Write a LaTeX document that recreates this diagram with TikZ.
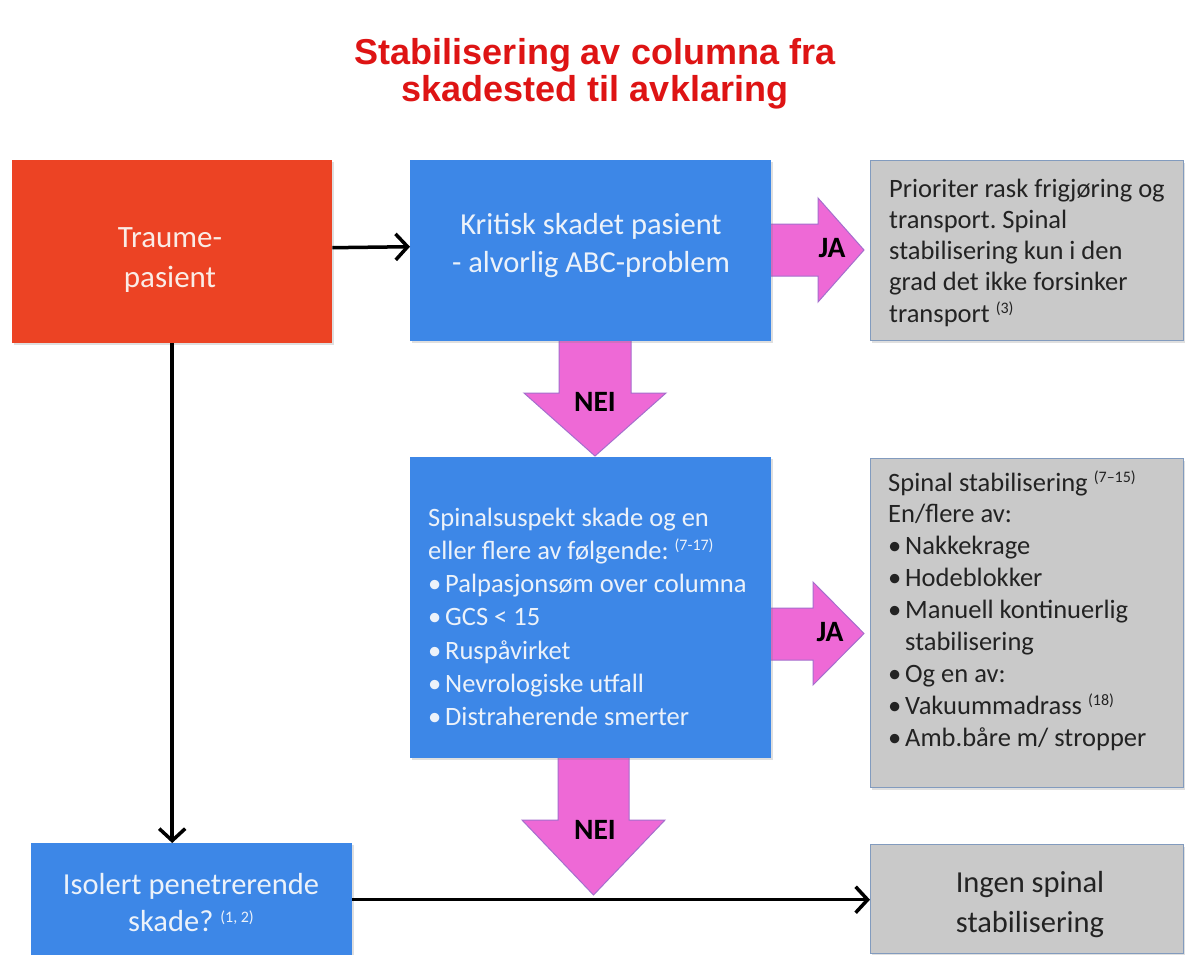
\documentclass[tikz,border=0pt]{standalone}
\usepackage{fontspec}
\setmainfont{Carlito}
\newfontfamily\titlefont{Liberation Sans}
\usetikzlibrary{arrows.meta,shadows}
\definecolor{boxred}{RGB}{236,67,36}
\definecolor{boxblue}{RGB}{61,135,231}
\definecolor{boxgrey}{RGB}{201,201,201}
\definecolor{greyedge}{RGB}{130,155,190}
\definecolor{pinkfill}{RGB}{238,105,214}
\definecolor{pinkedge}{RGB}{165,110,205}
\definecolor{titlered}{RGB}{222,20,20}
\definecolor{paletext}{RGB}{236,242,250}
\definecolor{redtext}{RGB}{250,236,230}
\definecolor{darktext}{RGB}{35,35,35}
\newcommand{\refsup}[1]{{\fontsize{16}{16}\selectfont\raisebox{9pt}{#1}}}
\newcommand{\listbullet}{\makebox[17pt][l]{•}}
\frenchspacing
\begin{document}
\begin{tikzpicture}[x=1pt,y=-1pt,
  basebox/.style={rectangle, inner sep=0pt, anchor=north west,
    drop shadow={opacity=0.25,shadow xshift=1.5pt,shadow yshift=-2pt}},
  redbox/.style={basebox, fill=boxred},
  bluebox/.style={basebox, fill=boxblue},
  greybox/.style={basebox, fill=boxgrey, draw=greyedge, line width=1.2pt},
  bigtext/.style={align=center, anchor=base, inner sep=0pt},
  listtext/.style={align=left, anchor=base west, inner sep=0pt},
  flow/.style={line width=3.5pt, -{Straight Barb[length=12pt,width=26pt]}},
  pinkarrow/.style={fill=pinkfill, draw=pinkedge, line width=1pt, line join=miter},
  yesno/.style={font=\bfseries\fontsize{29.5}{29.5}\selectfont, text=black, inner sep=0pt}]
\clip (0,0) rectangle (1189,954);
\fill[white] (0,0) rectangle (1189,954);

% title (anchor base = baseline of the last line)
\node[font=\titlefont\bfseries\fontsize{36}{37}\selectfont, text=titlered, align=center, anchor=base] (title) at (595,101) {Stabilisering av columna fra\\skadested til avklaring};

% pink yes/no arrows
\draw[pinkarrow] (768,224) -- (818,224) -- (818,198) -- (864,250) -- (818,302) -- (818,276) -- (768,276) -- cycle;
\draw[pinkarrow] (768,608) -- (813,608) -- (813,582) -- (864,633.5) -- (813,685) -- (813,660) -- (768,660) -- cycle;
\draw[pinkarrow] (559,338) -- (631,338) -- (631,393) -- (666,393) -- (595,456) -- (524,393) -- (559,393) -- cycle;
\draw[pinkarrow] (558,755) -- (629,755) -- (629,820) -- (665,820) -- (593.5,895) -- (522,820) -- (558,820) -- cycle;

% boxes
\node[redbox, minimum width=320, minimum height=183] (traume) at (12,160) {};
\node[bluebox, minimum width=361, minimum height=181] (kritisk) at (410,160) {};
\node[greybox, minimum width=313, minimum height=180] (prior) at (870,160) {};
\node[bluebox, minimum width=361, minimum height=301] (spinal) at (410,457) {};
\node[greybox, minimum width=313, minimum height=329] (stab) at (870,458) {};
\node[bluebox, minimum width=321, minimum height=113] (isolert) at (31,843) {};
\node[greybox, minimum width=313, minimum height=109] (ingen) at (870,844) {};

% labels on pink arrows
\node[yesno] (ja1) at (832,248) {JA};
\node[yesno] (ja2) at (830,632) {JA};
\node[yesno] (nei1) at (595,402) {NEI};
\node[yesno] (nei2) at (595,830) {NEI};

% texts (anchor base = baseline of the last line)
\node[bigtext, text=redtext, font=\fontsize{31}{40}\selectfont] (traumetxt) at (170,287) {Traume-\\pasient};
\node[bigtext, text=paletext, font=\fontsize{30.5}{38}\selectfont] (kritisktxt) at (591,272) {Kritisk skadet pasient\\- alvorlig ABC-problem};
\node[bigtext, text=paletext, font=\fontsize{30.5}{37}\selectfont] (isolerttxt) at (191,931) {Isolert penetrerende\\skade? \refsup{(1, 2)}};
\node[bigtext, text=darktext, font=\fontsize{30.5}{40}\selectfont] (ingentxt) at (1030,932) {Ingen spinal\\stabilisering};
\node[listtext, text=darktext, font=\fontsize{26.5}{31.3}\selectfont] (priortxt) at (889,322.2) {Prioriter rask frigjøring og\\transport. Spinal\\stabilisering kun i den\\grad det ikke forsinker\\transport \refsup{(3)}};
\node[listtext, text=paletext, font=\fontsize{26.5}{33.3}\selectfont] (spinaltxt) at (428,725.8) {Spinalsuspekt skade og en\\eller flere av følgende: \refsup{(7-17)}\\\listbullet Palpasjonsøm over columna\\\listbullet GCS < 15\\\listbullet Ruspåvirket\\\listbullet Nevrologiske utfall\\\listbullet Distraherende smerter};
\node[listtext, text=darktext, font=\fontsize{26.5}{31.9}\selectfont] (stabtxt) at (888,746.2) {Spinal stabilisering \refsup{(7–15)}\\En/flere av:\\\listbullet Nakkekrage\\\listbullet Hodeblokker\\\listbullet Manuell kontinuerlig\\\hspace*{17pt}stabilisering\\\listbullet Og en av:\\\listbullet Vakuummadrass \refsup{(18)}\\\listbullet Amb.båre m/ stropper};

% connectors
\draw[flow] ([yshift=4pt]traume.east) -- ([yshift=4pt]kritisk.west);
\draw[flow] (traume.south) -- (traume.south |- isolert.north);
\draw[flow] (isolert.east) -- (isolert.east -| ingen.west);
\end{tikzpicture}
\end{document}
